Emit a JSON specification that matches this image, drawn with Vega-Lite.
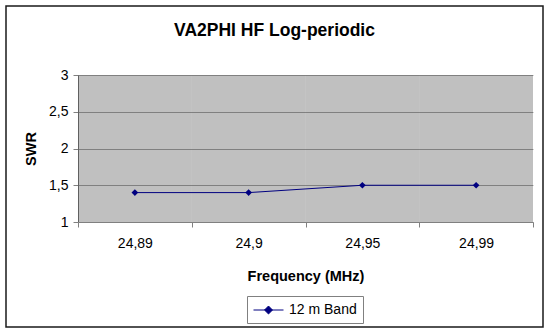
{
  "$schema": "https://vega.github.io/schema/vega-lite/v6.json",
  "width": 537,
  "height": 321,
  "autosize": {"type": "none"},
  "padding": {"left": 6, "top": 6, "right": 7, "bottom": 5},
  "background": "white",
  "config": {
    "view": {"fill": "white", "stroke": "#1a1a1a", "strokeWidth": 1.5},
    "font": "Liberation Sans"
  },
  "title": {
    "text": "VA2PHI HF Log-periodic",
    "font": "Liberation Sans",
    "fontSize": 17.5,
    "fontWeight": "bold",
    "color": "black",
    "anchor": "middle",
    "baseline": "alphabetic",
    "offset": 0,
    "dy": 47
  },
  "data": {
    "values": [
      {"freq": "24,89", "swr": 1.4, "band": "12 m Band"},
      {"freq": "24,9", "swr": 1.4, "band": "12 m Band"},
      {"freq": "24,95", "swr": 1.5, "band": "12 m Band"},
      {"freq": "24,99", "swr": 1.5, "band": "12 m Band"}
    ]
  },
  "encoding": {
    "x": {
      "field": "freq",
      "type": "nominal",
      "sort": null,
      "scale": {"type": "band", "range": [72, 527], "paddingInner": 0, "paddingOuter": 0},
      "axis": {
        "orient": "bottom",
        "offset": -105,
        "tickBand": "extent",
        "labelAngle": 0,
        "title": "Frequency (MHz)",
        "titleFont": "Liberation Sans",
        "titleFontSize": 14.5,
        "titleFontWeight": "bold",
        "titleColor": "black",
        "titlePadding": 19,
        "labelFont": "Liberation Sans",
        "labelFontSize": 14,
        "labelColor": "black",
        "labelPadding": 9,
        "tickSize": 5,
        "tickColor": "#808080",
        "domainColor": "#808080",
        "grid": false
      }
    }
  },
  "layer": [
    {
      "mark": {"type": "bar", "color": "black", "opacity": 0.247},
      "encoding": {
        "y": {
          "datum": 1,
          "type": "quantitative",
          "title": "SWR",
          "scale": {"domain": [1, 3], "range": [216, 69], "nice": false, "zero": false},
          "axis": {
            "orient": "left",
            "offset": -72,
            "values": [1, 1.5, 2, 2.5, 3],
            "format": ".1~f",
            "labelExpr": "replace(datum.label, '.', ',')",
            "grid": true,
            "gridColor": "#aaaaaa",
            "gridOpacity": 1,
            "gridWidth": 1,
            "tickSize": 5,
            "tickColor": "#808080",
            "domainColor": "#808080",
            "labelFont": "Liberation Sans",
            "labelFontSize": 14,
            "labelColor": "black",
            "labelPadding": 5,
            "title": "SWR",
            "titleFont": "Liberation Sans",
            "titleFontSize": 14.5,
            "titleFontWeight": "bold",
            "titleColor": "black",
            "titlePadding": 10
          }
        },
        "y2": {"datum": 3}
      }
    },
    {
      "mark": {"type": "line", "strokeWidth": 1},
      "encoding": {
        "y": {"field": "swr", "type": "quantitative", "title": "SWR"},
        "color": {
          "field": "band",
          "type": "nominal",
          "scale": {"range": ["#000080"]},
          "legend": {
            "orient": "none",
            "legendX": 241,
            "legendY": 290,
            "title": null,
            "strokeColor": "#808080",
            "fillColor": "white",
            "padding": 6,
            "symbolType": "M-2,0L2,0M0,-0.53L0.53,0L0,0.53L-0.53,0Z",
            "symbolSize": 225,
            "symbolOffset": 7.5,
            "symbolStrokeWidth": 1,
            "symbolStrokeColor": "#000080",
            "symbolFillColor": "#000080",
            "labelFont": "Liberation Sans",
            "labelFontSize": 14,
            "labelColor": "black",
            "labelOffset": 12.5
          }
        }
      }
    },
    {
      "mark": {"type": "point", "shape": "diamond", "filled": true, "size": 45, "opacity": 1},
      "encoding": {
        "y": {"field": "swr", "type": "quantitative", "title": "SWR"},
        "color": {"field": "band", "type": "nominal"}
      }
    }
  ]
}
